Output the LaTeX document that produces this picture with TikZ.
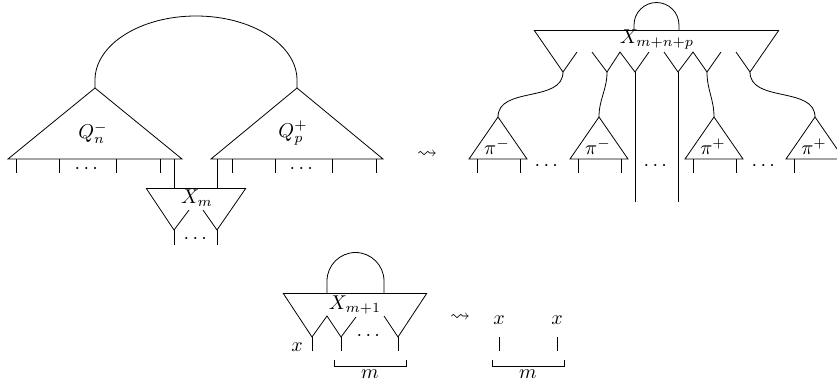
\documentclass[tikz,border=0pt]{standalone}
\usepackage{amsmath,amssymb}
\usetikzlibrary{calc}

\begin{document}
\begin{tikzpicture}[x=0.5pt,y=-0.5pt]
\useasboundingbox (0,0) rectangle (837,381);

% Left tree Q_n^-
\coordinate (qntop) at (95,88);
\draw (8,159) -- (qntop) -- (182,159) -- cycle;
\foreach \x in {16,59,116,160}
{
\draw (\x,159) -- (\x,173);
}
\node[inner sep=1pt] (Qn) at (93,133) {$Q_n^-$};
\node (dqn) at (88,169) {$\cdots$};

% Right tree Q_p^+
\coordinate (qptop) at (297,88);
\draw (211,159) -- (qptop) -- (383,159) -- cycle;
\foreach \x in {232,275,332,376}
{
\draw (\x,159) -- (\x,173);
}
\node[inner sep=1pt] (Qp) at (293,133) {$Q_p^+$};
\node (dqp) at (303,169) {$\cdots$};

% Big cap joining the two trees
\draw (qntop) -- (95,80) .. controls (95,44.7) and (140.2,16) .. (196,16)
 .. controls (251.8,16) and (297,44.7) .. (297,80) -- (qptop);

% X_m below
\draw (146,188) -- (246,188);
\draw (189,210) -- (174,230) -- (146,188);
\draw (203,210) -- (217,230) -- (246,188);
\draw (174,159) -- (174,188);
\draw (217,159) -- (217,188);
\draw (174,230) -- (174,245);
\draw (217,230) -- (217,245);
\node (Xm) at (197,198) {$X_m$};
\node (dxm) at (197,239) {$\cdots$};

\node (sq1) at (427,155) {$\leadsto$};

% X_{m+n+p}
\draw (534,30) -- (779,30);
\draw (634,30) -- (634,25) .. controls (634,12.6) and (644.1,2.5) .. (656.5,2.5)
 .. controls (668.9,2.5) and (679,12.6) .. (679,25) -- (679,30);
\draw (534,30) -- (563,72) -- (577,52);
\draw (592,52) -- (607,72) -- (620,52) -- (635,72) -- (649,52);
\draw (664,52) -- (678,72) -- (693,52) -- (707,72) -- (721,52);
\draw (736,52) -- (750,72) -- (779,30);
\node (Xmnp) at (657,40) {$X_{m+n+p}$};
\draw (635,72) -- (635,202);
\draw (678,72) -- (678,202);

% the pi trees
\foreach \i/\a/\s in {1/498/-,2/599/-,3/714/+,4/815/+}
{
\coordinate (pi\i) at (\a,117);
\draw (\a-29,159) -- (pi\i) -- (\a+29,159) -- cycle;
\draw (\a-21,159) -- (\a-21,173);
\draw (\a+22,159) -- (\a+22,173);
\node (lpi\i) at (\a-1,147) {$\pi^\s$};
}
\draw (563,72) to[out=-90,in=90] (pi1);
\draw (607,72) to[out=-90,in=90] (pi2);
\draw (707,72) to[out=-90,in=90] (pi3);
\draw (750,72) to[out=-90,in=90] (pi4);
\foreach \x in {548,657,765}
{
\node at (\x,166) {$\cdots$};
}

% X_{m+1} and the contraction
\draw (283,293) -- (427,293);
\draw (327,293) -- (327,281) .. controls (327,265.3) and (339.8,252.5) .. (355.5,252.5)
 .. controls (371.2,252.5) and (384,265.3) .. (384,281) -- (384,293);
\draw (283,293) -- (312,337) -- (327,316) -- (341,337) -- (356,317);
\draw (384,316) -- (398,337) -- (427,293);
\foreach \x in {312,341,398}
{
\draw (\x,337) -- (\x,351);
}
\node (Xm1) at (355,305) {$X_{m+1}$};
\node (x0) at (297,347) {$x$};
\node (dxm1) at (370,336) {$\cdots$};
\draw (334,360) -- (334,366) -- (406,366) -- (406,360);
\node[inner sep=0pt] (m1) at (370,374) {$m$};

\node (sq2) at (460,318) {$\leadsto$};

\node (x1) at (499,320) {$x$};
\node (x2) at (557,320) {$x$};
\draw (499,337) -- (499,351);
\draw (557,337) -- (557,351);
\draw (492,360) -- (492,366) -- (564,366) -- (564,360);
\node[inner sep=0pt] (m2) at (528,374) {$m$};

\end{tikzpicture}
\end{document}
